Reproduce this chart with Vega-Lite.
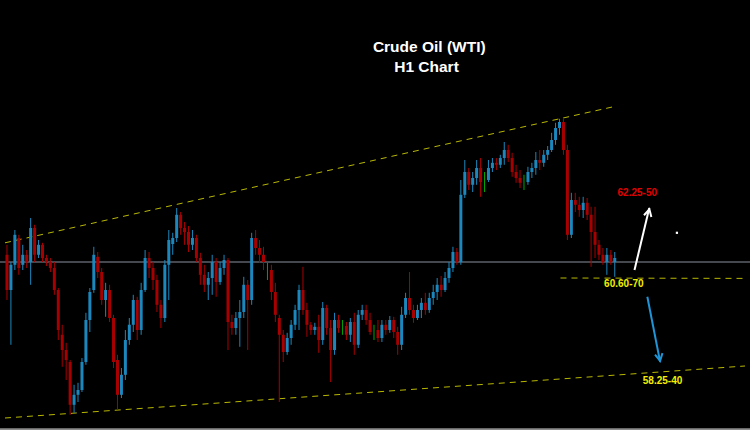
{
  "$schema": "https://vega.github.io/schema/vega-lite/v6.json",
  "width": 750,
  "height": 430,
  "autosize": {"type": "none"},
  "padding": 0,
  "background": "#000000",
  "config": {"view": {"stroke": null}},
  "datasets": {
    "candles": [
      {"t":0,"o":61.18,"c":60.30,"h":61.43,"l":60.05},
      {"t":1,"o":60.30,"c":60.93,"h":61.00,"l":58.93},
      {"t":2,"o":60.93,"c":61.68,"h":61.80,"l":60.80},
      {"t":3,"o":61.60,"c":60.85,"h":61.68,"l":60.68},
      {"t":4,"o":60.93,"c":61.18,"h":61.43,"l":60.80},
      {"t":5,"o":61.18,"c":61.00,"h":61.30,"l":60.85},
      {"t":6,"o":61.00,"c":61.85,"h":62.10,"l":60.43},
      {"t":7,"o":61.85,"c":61.18,"h":61.93,"l":61.00},
      {"t":8,"o":61.18,"c":61.43,"h":61.55,"l":61.10},
      {"t":9,"o":61.43,"c":61.10,"h":61.48,"l":61.00},
      {"t":10,"o":61.10,"c":61.00,"h":61.18,"l":60.90},
      {"t":11,"o":61.00,"c":60.85,"h":61.10,"l":60.75},
      {"t":12,"o":60.85,"c":60.30,"h":61.00,"l":60.18},
      {"t":13,"o":60.30,"c":59.30,"h":60.35,"l":59.05},
      {"t":14,"o":59.18,"c":58.80,"h":59.43,"l":58.38},
      {"t":15,"o":58.80,"c":58.55,"h":58.98,"l":58.05},
      {"t":16,"o":58.50,"c":57.43,"h":58.55,"l":57.18},
      {"t":17,"o":57.43,"c":57.68,"h":57.93,"l":57.23},
      {"t":18,"o":57.68,"c":57.80,"h":57.98,"l":57.50},
      {"t":19,"o":57.80,"c":58.50,"h":58.60,"l":57.75},
      {"t":20,"o":58.50,"c":59.55,"h":59.73,"l":58.43},
      {"t":21,"o":59.55,"c":60.25,"h":60.35,"l":59.25},
      {"t":22,"o":60.30,"c":61.18,"h":61.38,"l":60.23},
      {"t":23,"o":61.13,"c":60.75,"h":61.25,"l":60.60},
      {"t":24,"o":60.75,"c":60.05,"h":60.85,"l":59.93},
      {"t":25,"o":60.05,"c":60.30,"h":60.48,"l":59.63},
      {"t":26,"o":60.30,"c":59.60,"h":60.43,"l":59.50},
      {"t":27,"o":59.60,"c":58.50,"h":59.68,"l":58.35},
      {"t":28,"o":58.55,"c":57.68,"h":58.68,"l":57.30},
      {"t":29,"o":57.68,"c":58.18,"h":58.35,"l":57.60},
      {"t":30,"o":58.18,"c":59.05,"h":59.30,"l":58.05},
      {"t":31,"o":59.05,"c":59.43,"h":59.60,"l":58.93},
      {"t":32,"o":59.43,"c":60.05,"h":60.18,"l":59.25},
      {"t":33,"o":60.05,"c":59.30,"h":60.13,"l":59.05},
      {"t":34,"o":59.30,"c":60.30,"h":60.48,"l":59.18},
      {"t":35,"o":60.30,"c":61.10,"h":61.30,"l":60.25},
      {"t":36,"o":61.10,"c":60.85,"h":61.25,"l":60.60},
      {"t":37,"o":60.85,"c":60.55,"h":61.00,"l":60.30},
      {"t":38,"o":60.55,"c":59.93,"h":60.68,"l":59.75},
      {"t":39,"o":59.93,"c":59.60,"h":60.05,"l":59.35},
      {"t":40,"o":59.60,"c":60.93,"h":61.05,"l":59.50},
      {"t":41,"o":60.93,"c":61.55,"h":61.80,"l":60.05},
      {"t":42,"o":61.45,"c":61.60,"h":61.73,"l":61.18},
      {"t":43,"o":61.60,"c":62.18,"h":62.35,"l":61.50},
      {"t":44,"o":62.18,"c":61.85,"h":62.25,"l":61.68},
      {"t":45,"o":61.85,"c":61.75,"h":62.00,"l":61.43},
      {"t":46,"o":61.75,"c":61.43,"h":61.90,"l":61.25},
      {"t":47,"o":61.43,"c":61.60,"h":61.80,"l":61.30},
      {"t":48,"o":61.60,"c":61.10,"h":61.68,"l":61.00},
      {"t":49,"o":61.10,"c":60.68,"h":61.23,"l":60.43},
      {"t":50,"o":60.68,"c":60.43,"h":60.93,"l":60.25},
      {"t":51,"o":60.43,"c":60.60,"h":60.75,"l":60.05},
      {"t":52,"o":60.60,"c":61.00,"h":61.18,"l":60.18},
      {"t":53,"o":61.00,"c":60.50,"h":61.10,"l":60.13},
      {"t":54,"o":60.50,"c":60.85,"h":61.00,"l":60.43},
      {"t":55,"o":60.85,"c":61.05,"h":61.18,"l":60.68},
      {"t":56,"o":61.05,"c":59.50,"h":61.10,"l":58.80},
      {"t":57,"o":59.50,"c":59.35,"h":59.68,"l":59.18},
      {"t":58,"o":59.35,"c":59.60,"h":59.75,"l":59.18},
      {"t":59,"o":59.60,"c":59.75,"h":60.05,"l":58.88},
      {"t":60,"o":59.75,"c":60.43,"h":60.63,"l":59.60},
      {"t":61,"o":60.43,"c":60.05,"h":60.55,"l":58.80},
      {"t":62,"o":60.05,"c":61.60,"h":61.73,"l":59.93},
      {"t":63,"o":61.60,"c":61.35,"h":61.80,"l":61.18},
      {"t":64,"o":61.35,"c":61.18,"h":61.55,"l":60.98},
      {"t":65,"o":61.18,"c":61.00,"h":61.38,"l":60.80},
      {"t":66,"o":60.85,"c":60.85,"h":60.98,"l":60.55},
      {"t":67,"o":60.80,"c":60.25,"h":60.93,"l":60.05},
      {"t":68,"o":60.25,"c":59.68,"h":60.48,"l":59.50},
      {"t":69,"o":59.60,"c":59.18,"h":59.68,"l":57.50},
      {"t":70,"o":59.18,"c":58.75,"h":59.30,"l":58.50},
      {"t":71,"o":58.75,"c":59.10,"h":59.23,"l":58.68},
      {"t":72,"o":59.10,"c":59.43,"h":59.55,"l":58.93},
      {"t":73,"o":59.43,"c":59.80,"h":59.93,"l":59.30},
      {"t":74,"o":59.80,"c":60.30,"h":60.43,"l":59.30},
      {"t":75,"o":60.30,"c":59.80,"h":60.88,"l":59.68},
      {"t":76,"o":59.80,"c":59.43,"h":59.98,"l":59.13},
      {"t":77,"o":59.43,"c":59.30,"h":59.50,"l":59.18},
      {"t":78,"o":59.30,"c":59.38,"h":59.48,"l":59.18},
      {"t":79,"o":59.38,"c":59.05,"h":59.68,"l":58.73},
      {"t":80,"o":59.05,"c":59.85,"h":60.00,"l":58.93},
      {"t":81,"o":59.85,"c":59.35,"h":59.93,"l":59.18},
      {"t":82,"o":59.35,"c":58.80,"h":59.55,"l":58.00},
      {"t":83,"o":58.80,"c":59.55,"h":59.73,"l":58.68},
      {"t":84,"o":59.55,"c":59.35,"h":59.68,"l":59.23},
      {"t":85,"o":59.40,"c":59.40,"h":59.55,"l":59.18},
      {"t":86,"o":59.40,"c":59.18,"h":59.50,"l":59.05},
      {"t":87,"o":59.18,"c":59.50,"h":59.60,"l":59.00},
      {"t":88,"o":59.50,"c":58.93,"h":59.73,"l":58.68},
      {"t":89,"o":58.93,"c":59.68,"h":59.80,"l":58.85},
      {"t":90,"o":59.68,"c":59.80,"h":59.93,"l":59.55},
      {"t":91,"o":59.80,"c":59.55,"h":59.93,"l":59.43},
      {"t":92,"o":59.55,"c":59.25,"h":59.73,"l":59.18},
      {"t":93,"o":59.30,"c":59.30,"h":59.43,"l":59.05},
      {"t":94,"o":59.30,"c":59.10,"h":59.55,"l":59.00},
      {"t":95,"o":59.10,"c":59.43,"h":59.55,"l":59.00},
      {"t":96,"o":59.43,"c":59.30,"h":59.55,"l":59.18},
      {"t":97,"o":59.30,"c":59.55,"h":59.65,"l":59.23},
      {"t":98,"o":59.55,"c":59.25,"h":59.63,"l":59.10},
      {"t":99,"o":59.25,"c":58.93,"h":59.38,"l":58.68},
      {"t":100,"o":58.93,"c":59.68,"h":59.88,"l":58.80},
      {"t":101,"o":59.68,"c":60.10,"h":60.23,"l":59.60},
      {"t":102,"o":60.10,"c":59.80,"h":60.75,"l":59.68},
      {"t":103,"o":59.80,"c":59.60,"h":59.93,"l":59.48},
      {"t":104,"o":59.60,"c":59.80,"h":59.93,"l":59.55},
      {"t":105,"o":59.80,"c":59.98,"h":60.10,"l":59.60},
      {"t":106,"o":59.98,"c":59.80,"h":60.23,"l":59.68},
      {"t":107,"o":59.80,"c":60.10,"h":60.23,"l":59.73},
      {"t":108,"o":60.10,"c":60.25,"h":60.43,"l":59.93},
      {"t":109,"o":60.25,"c":60.43,"h":60.60,"l":60.05},
      {"t":110,"o":60.43,"c":60.30,"h":60.65,"l":60.13},
      {"t":111,"o":60.30,"c":60.60,"h":60.75,"l":60.25},
      {"t":112,"o":60.60,"c":60.85,"h":61.00,"l":60.48},
      {"t":113,"o":60.85,"c":61.25,"h":61.38,"l":60.75},
      {"t":114,"o":61.25,"c":61.00,"h":61.35,"l":60.93},
      {"t":115,"o":61.00,"c":62.68,"h":63.05,"l":60.93},
      {"t":116,"o":62.68,"c":63.25,"h":63.55,"l":62.60},
      {"t":117,"o":63.25,"c":62.93,"h":63.35,"l":62.80},
      {"t":118,"o":62.93,"c":63.10,"h":63.25,"l":62.75},
      {"t":119,"o":63.10,"c":63.35,"h":63.55,"l":62.93},
      {"t":120,"o":63.35,"c":63.00,"h":63.60,"l":62.63},
      {"t":121,"o":63.05,"c":63.05,"h":63.25,"l":62.75},
      {"t":122,"o":63.05,"c":63.35,"h":63.55,"l":63.00},
      {"t":123,"o":63.35,"c":63.48,"h":63.60,"l":63.25},
      {"t":124,"o":63.48,"c":63.43,"h":63.60,"l":63.30},
      {"t":125,"o":63.43,"c":63.60,"h":63.68,"l":63.35},
      {"t":126,"o":63.60,"c":63.80,"h":64.00,"l":63.43},
      {"t":127,"o":63.80,"c":63.60,"h":63.93,"l":63.50},
      {"t":128,"o":63.60,"c":63.25,"h":63.73,"l":63.13},
      {"t":129,"o":63.25,"c":63.10,"h":63.43,"l":62.98},
      {"t":130,"o":63.10,"c":62.98,"h":63.30,"l":62.85},
      {"t":131,"o":63.00,"c":63.00,"h":63.18,"l":62.80},
      {"t":132,"o":63.00,"c":63.25,"h":63.38,"l":62.93},
      {"t":133,"o":63.25,"c":63.35,"h":63.48,"l":63.10},
      {"t":134,"o":63.35,"c":63.55,"h":63.75,"l":63.18},
      {"t":135,"o":63.55,"c":63.48,"h":63.80,"l":63.30},
      {"t":136,"o":63.48,"c":63.68,"h":63.80,"l":63.38},
      {"t":137,"o":63.68,"c":63.80,"h":63.90,"l":63.55},
      {"t":138,"o":63.80,"c":64.05,"h":64.23,"l":63.75},
      {"t":139,"o":64.05,"c":64.35,"h":64.48,"l":63.93},
      {"t":140,"o":64.35,"c":64.50,"h":64.58,"l":64.18},
      {"t":141,"o":64.50,"c":63.80,"h":64.60,"l":63.68},
      {"t":142,"o":63.80,"c":61.68,"h":63.93,"l":61.55},
      {"t":143,"o":61.68,"c":62.55,"h":62.73,"l":61.60},
      {"t":144,"o":62.55,"c":62.43,"h":62.73,"l":62.25},
      {"t":145,"o":62.43,"c":62.30,"h":62.63,"l":62.13},
      {"t":146,"o":62.30,"c":62.48,"h":62.63,"l":62.10},
      {"t":147,"o":62.48,"c":62.18,"h":62.60,"l":62.05},
      {"t":148,"o":62.18,"c":61.75,"h":62.38,"l":60.88},
      {"t":149,"o":61.75,"c":61.43,"h":62.38,"l":61.10},
      {"t":150,"o":61.43,"c":61.18,"h":61.55,"l":61.05},
      {"t":151,"o":61.18,"c":61.00,"h":61.35,"l":60.93},
      {"t":152,"o":61.00,"c":61.18,"h":61.35,"l":60.68},
      {"t":153,"o":61.18,"c":61.00,"h":61.30,"l":60.93},
      {"t":154,"o":61.00,"c":61.10,"h":61.25,"l":60.63}
    ]
  },
  "layer": [
    {
      "data": {"values": [{"p": 61.0}]},
      "mark": {"type": "rule", "color": "#8a909c", "strokeWidth": 1},
      "encoding": {
        "y": {"field": "p", "type": "quantitative", "scale": {"domain": [56.8, 67.55], "nice": false, "zero": false}, "axis": null}
      }
    },
    {
      "data": {"values": [{"p": 56.82}]},
      "mark": {"type": "rule", "color": "#8c8c8c", "strokeWidth": 2},
      "encoding": {
        "y": {"field": "p", "type": "quantitative", "scale": {"domain": [56.8, 67.55], "nice": false, "zero": false}, "axis": null}
      }
    },
    {
      "data": {"values": [
        {"t1": -0.5, "p1": 61.48, "t2": 154.5, "p2": 64.90},
        {"t1": -0.5, "p1": 57.10, "t2": 187, "p2": 58.40},
        {"t1": 140.25, "p1": 60.60, "t2": 187, "p2": 60.59}
      ]},
      "mark": {"type": "rule", "color": "#b8b800", "strokeWidth": 1, "strokeDash": [6, 5]},
      "encoding": {
        "x": {"field": "t1", "type": "quantitative", "scale": {"domain": [-0.5, 187], "nice": false, "zero": false}, "axis": null},
        "y": {"field": "p1", "type": "quantitative", "scale": {"domain": [56.8, 67.55], "nice": false, "zero": false}, "axis": null},
        "x2": {"field": "t2"},
        "y2": {"field": "p2"}
      }
    },
    {
      "data": {"name": "candles"},
      "mark": {"type": "rule", "strokeWidth": 1},
      "encoding": {
        "x": {"field": "t", "type": "quantitative", "scale": {"domain": [-0.5, 187], "nice": false, "zero": false}, "axis": null},
        "y": {"field": "l", "type": "quantitative", "scale": {"domain": [56.8, 67.55], "nice": false, "zero": false}, "axis": null},
        "y2": {"field": "h"},
        "color": {
          "condition": [
            {"test": "datum.c > datum.o", "value": "#1c87bd"},
            {"test": "datum.c == datum.o", "value": "#00a800"}
          ],
          "value": "#a80000"
        }
      }
    },
    {
      "data": {"name": "candles"},
      "mark": {"type": "bar", "size": 3, "orient": "vertical"},
      "encoding": {
        "x": {"field": "t", "type": "quantitative", "scale": {"domain": [-0.5, 187], "nice": false, "zero": false}, "axis": null},
        "y": {"field": "o", "type": "quantitative", "scale": {"domain": [56.8, 67.55], "nice": false, "zero": false}, "axis": null},
        "y2": {"field": "c"},
        "color": {
          "condition": [
            {"test": "datum.c > datum.o", "value": "#1c87bd"},
            {"test": "datum.c == datum.o", "value": "#00a800"}
          ],
          "value": "#a80000"
        }
      }
    },
    {
      "data": {"values": [{"t1": 159, "p1": 60.80, "t2": 162.75, "p2": 62.35}]},
      "mark": {"type": "rule", "color": "#ffffff", "strokeWidth": 2},
      "encoding": {
        "x": {"field": "t1", "type": "quantitative", "scale": {"domain": [-0.5, 187], "nice": false, "zero": false}, "axis": null},
        "y": {"field": "p1", "type": "quantitative", "scale": {"domain": [56.8, 67.55], "nice": false, "zero": false}, "axis": null},
        "x2": {"field": "t2"},
        "y2": {"field": "p2"}
      }
    },
    {
      "data": {"values": [{"t": 162.6, "p": 62.25}]},
      "mark": {"type": "point", "shape": "M -0.8 0.9 L 0 -0.6 L 0.8 0.9", "filled": false, "stroke": "#ffffff", "strokeWidth": 2, "size": 90, "angle": 14, "opacity": 1},
      "encoding": {
        "x": {"field": "t", "type": "quantitative", "scale": {"domain": [-0.5, 187], "nice": false, "zero": false}, "axis": null},
        "y": {"field": "p", "type": "quantitative", "scale": {"domain": [56.8, 67.55], "nice": false, "zero": false}, "axis": null}
      }
    },
    {
      "data": {"values": [{"t1": 162.25, "p1": 60.13, "t2": 165.5, "p2": 58.50}]},
      "mark": {"type": "rule", "color": "#1f94d6", "strokeWidth": 2},
      "encoding": {
        "x": {"field": "t1", "type": "quantitative", "scale": {"domain": [-0.5, 187], "nice": false, "zero": false}, "axis": null},
        "y": {"field": "p1", "type": "quantitative", "scale": {"domain": [56.8, 67.55], "nice": false, "zero": false}, "axis": null},
        "x2": {"field": "t2"},
        "y2": {"field": "p2"}
      }
    },
    {
      "data": {"values": [{"t": 165.35, "p": 58.60}]},
      "mark": {"type": "point", "shape": "M -0.8 0.9 L 0 -0.6 L 0.8 0.9", "filled": false, "stroke": "#1f94d6", "strokeWidth": 2, "size": 90, "angle": 169, "opacity": 1},
      "encoding": {
        "x": {"field": "t", "type": "quantitative", "scale": {"domain": [-0.5, 187], "nice": false, "zero": false}, "axis": null},
        "y": {"field": "p", "type": "quantitative", "scale": {"domain": [56.8, 67.55], "nice": false, "zero": false}, "axis": null}
      }
    },
    {
      "data": {"values": [{"t": 169.75, "p": 61.73}]},
      "mark": {"type": "point", "shape": "square", "filled": true, "color": "#ffffff", "size": 5, "opacity": 1},
      "encoding": {
        "x": {"field": "t", "type": "quantitative", "scale": {"domain": [-0.5, 187], "nice": false, "zero": false}, "axis": null},
        "y": {"field": "p", "type": "quantitative", "scale": {"domain": [56.8, 67.55], "nice": false, "zero": false}, "axis": null}
      }
    },
    {
      "data": {"values": [{"t": 159.7, "p": 62.72, "label": "62.25-50"}]},
      "mark": {"type": "text", "color": "#e00000", "font": "Liberation Sans", "fontSize": 10, "fontWeight": "bold", "align": "center", "baseline": "middle"},
      "encoding": {
        "x": {"field": "t", "type": "quantitative", "scale": {"domain": [-0.5, 187], "nice": false, "zero": false}, "axis": null},
        "y": {"field": "p", "type": "quantitative", "scale": {"domain": [56.8, 67.55], "nice": false, "zero": false}, "axis": null},
        "text": {"field": "label"}
      }
    },
    {
      "data": {"values": [
        {"t": 156.3, "p": 60.44, "label": "60.60-70"},
        {"t": 166.1, "p": 58.03, "label": "58.25-40"}
      ]},
      "mark": {"type": "text", "color": "#f0f000", "font": "Liberation Sans", "fontSize": 10, "fontWeight": "bold", "align": "center", "baseline": "middle"},
      "encoding": {
        "x": {"field": "t", "type": "quantitative", "scale": {"domain": [-0.5, 187], "nice": false, "zero": false}, "axis": null},
        "y": {"field": "p", "type": "quantitative", "scale": {"domain": [56.8, 67.55], "nice": false, "zero": false}, "axis": null},
        "text": {"field": "label"}
      }
    },
    {
      "data": {"values": [
        {"t": 107.0, "p": 66.38, "label": "Crude Oil (WTI)"},
        {"t": 106.3, "p": 65.87, "label": "H1 Chart"}
      ]},
      "mark": {"type": "text", "color": "#ffffff", "font": "Liberation Sans", "fontSize": 15.5, "fontWeight": "bold", "align": "center", "baseline": "middle"},
      "encoding": {
        "x": {"field": "t", "type": "quantitative", "scale": {"domain": [-0.5, 187], "nice": false, "zero": false}, "axis": null},
        "y": {"field": "p", "type": "quantitative", "scale": {"domain": [56.8, 67.55], "nice": false, "zero": false}, "axis": null},
        "text": {"field": "label"}
      }
    }
  ]
}
